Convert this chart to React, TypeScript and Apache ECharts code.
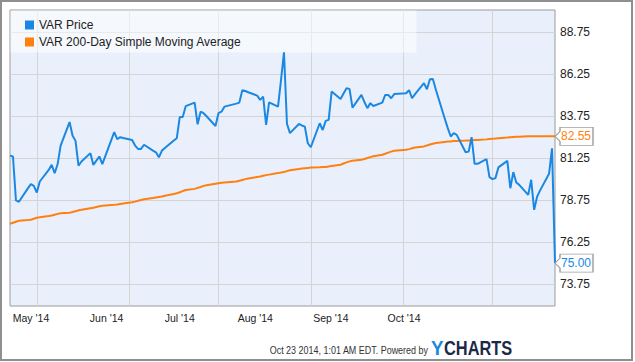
import React, { useEffect, useRef } from "react";
import * as echarts from "echarts";

// ---- data ----
const startDate = "2014-04-22";
const endDate = "2014-10-22";
const marketHolidays = ["2014-05-26", "2014-07-04", "2014-09-01"];

const seriesNames = ["VAR Price", "VAR 200-Day Simple Moving Average"];

// one value per trading day, Apr 22 .. Oct 22 2014
const priceValues = [
  81.4, 81.35, 78.73, 78.65, 79.45, 79.7, 79.6,
  79.2, 79.86, 80.55, 80.85, 80.35, 80.9, 82.0, 83.4, 82.6, 82.28, 80.8, 81.05, 81.55, 80.85, 81.1, 81.35, 80.9, 82.8, 82.38, 82.5, 82.45,
  82.33, 82.0, 81.8, 81.8, 82.05, 81.7, 81.6, 81.3, 81.7, 81.85, 82.3, 82.44, 83.7, 83.7, 84.35, 84.56, 83.27, 84.02, 83.93, 83.75, 83.17,
  83.93, 84.02, 84.32, 84.5, 84.56, 85.3, 85.25, 85.18, 84.98, 84.72, 84.92, 83.23, 84.58, 84.32, 85.9, 87.56, 83.3, 82.74, 83.29, 83.2, 83.13, 82.14,
  81.9, 83.33, 82.93, 83.47, 83.53, 85.22, 84.78, 85.1, 85.42, 85.38, 84.26, 85.02, 84.6, 84.23, 84.53, 84.36, 84.56, 85.02, 85.02, 84.82, 85.07,
  85.12, 85.3, 84.82, 85.07, 85.72, 85.36, 85.95, 85.97, 85.33, 83.6, 83.04, 82.54, 82.74, 82.64, 81.6, 81.64, 82.5, 80.91, 80.91, 81.19, 80.12,
  80.0, 80.06, 80.7, 81.09, 79.46, 80.42, 79.8, 79.66, 79.06, 79.96, 78.17, 78.96, 79.33, 80.32, 81.84, 75.0,
];

const smaValues = [
  77.34, 77.4, 77.46, 77.52, 77.56, 77.58, 77.64,
  77.7, 77.73, 77.8, 77.83, 77.88, 77.93, 77.97, 78.0, 78.04, 78.09, 78.14, 78.17, 78.27, 78.3, 78.34, 78.38, 78.41, 78.47, 78.49, 78.52, 78.55,
  78.62, 78.66, 78.71, 78.76, 78.8, 78.88, 78.91, 78.94, 78.97, 79.01, 79.11, 79.16, 79.22, 79.29, 79.35, 79.42, 79.48, 79.53, 79.6, 79.64, 79.73,
  79.76, 79.78, 79.8, 79.86, 79.9, 79.95, 80.0, 80.04, 80.13, 80.16, 80.2, 80.24, 80.27, 80.36, 80.4, 80.43, 80.48, 80.53, 80.6, 80.63, 80.65, 80.67,
  80.69, 80.71, 80.72, 80.73, 80.76, 80.79, 80.86, 80.93, 81.0, 81.06, 81.1, 81.15, 81.2, 81.26, 81.31, 81.36, 81.45, 81.51, 81.58, 81.64, 81.69,
  81.75, 81.79, 81.84, 81.88, 81.95, 82.01, 82.06, 82.11, 82.15, 82.22, 82.24, 82.25, 82.27, 82.28, 82.3, 82.31, 82.32, 82.33, 82.34, 82.37, 82.39,
  82.4, 82.42, 82.44, 82.48, 82.5, 82.51, 82.52, 82.53, 82.55, 82.55, 82.55, 82.55, 82.55, 82.55, 82.55, 82.55,
];

const yTickValues = [73.75, 76.25, 78.75, 81.25, 83.75, 86.25, 88.75];
const yMin = 72.44;
const yMax = 90.08;

const monthStarts = ["2014-05-01", "2014-06-01", "2014-07-01", "2014-08-01", "2014-09-01", "2014-10-01"];
const monthLabels = ["May '14", "Jun '14", "Jul '14", "Aug '14", "Sep '14", "Oct '14"];
// the month labels sit on their own calendar scale (as in the source image)
const labelAxisStart = "2014-04-22T09:15";
const labelAxisEnd = "2014-12-01T22:30";

const footerText = "Oct 23 2014, 1:01 AM EDT. Powered by";

// ---- helpers ----
function toTime(s: string): number {
  const [d, t] = s.split("T");
  const [y, m, dd] = d.split("-").map(Number);
  let hh = 0, mm = 0;
  if (t) [hh, mm] = t.split(":").map(Number);
  return Date.UTC(y, m - 1, dd, hh, mm);
}

function tradingDays(start: string, end: string, holidays: string[]): string[] {
  const out: string[] = [];
  const hol = new Set(holidays);
  let t = toTime(start);
  const e = toTime(end);
  while (t <= e) {
    const d = new Date(t);
    const wd = d.getUTCDay();
    const key = `${d.getUTCFullYear()}-${String(d.getUTCMonth() + 1).padStart(2, "0")}-${String(d.getUTCDate()).padStart(2, "0")}`;
    if (wd !== 0 && wd !== 6 && !hol.has(key)) out.push(key);
    t += 86400000;
  }
  return out;
}

const BLUE = "#1a88e3";
const ORANGE = "#ff7f0f";
const FONT = "'Liberation Sans', Arial, sans-serif";
const CALLOUT = "path://M0,9L5,4L5,0L38,0L38,18L5,18L5,14Z";

export default function App() {
  const ref = useRef<HTMLDivElement>(null);
  useEffect(() => {
    document.body.style.margin = "0";
    const chart = echarts.init(ref.current!, null, { renderer: "svg" });
    const dates = tradingDays(startDate, endDate, marketHolidays);
    const n = Math.min(dates.length, priceValues.length, smaValues.length);
    const priceData = dates.slice(0, n).map((d, i) => [toTime(d), priceValues[i]]);
    const smaData = dates.slice(0, n).map((d, i) => [toTime(d), smaValues[i]]);
    const lastT = toTime(dates[n - 1]);
    const monthTimes = monthStarts.map(toTime);

    const endMark = (color: string, value: number) => ({
      silent: true,
      symbol: CALLOUT,
      symbolSize: [38, 18],
      symbolOffset: [19, 0],
      itemStyle: { color: "#fff", borderColor: "#a0a0a0", borderWidth: 1 },
      label: {
        show: true,
        position: "inside",
        offset: [2, 0],
        color,
        fontSize: 12,
        fontFamily: FONT,
        formatter: (p: any) => Number(p.value).toFixed(2),
      },
      data: [{ coord: [lastT, value], value }],
    });

    chart.setOption({
      animation: false,
      backgroundColor: "#ffffff",
      grid: {
        left: 10,
        top: 10,
        right: 80,
        bottom: 56,
        show: true,
        backgroundColor: "#eaf0fb",
        borderColor: "#9a9a9a",
        borderWidth: 1,
      },
      legend: {
        orient: "vertical",
        left: 20,
        top: 14,
        itemWidth: 9,
        itemHeight: 9,
        itemGap: 5,
        icon: "rect",
        selectedMode: false,
        textStyle: { fontSize: 12, color: "#222", fontFamily: FONT },
        data: seriesNames,
      },
      xAxis: [
        {
          type: "value",
          position: "top",
          min: toTime(startDate),
          max: toTime(endDate),
          axisLine: { show: false },
          axisTick: { show: false, customValues: monthTimes },
          axisLabel: { show: false },
          splitLine: { show: true, lineStyle: { color: "#d4d4d4", width: 1 } },
        },
        {
          type: "value",
          position: "bottom",
          min: toTime(labelAxisStart),
          max: toTime(labelAxisEnd),
          axisLine: { show: false },
          axisTick: { show: false },
          splitLine: { show: false },
          axisLabel: {
            customValues: monthTimes,
            formatter: (v: number) => {
              const i = monthTimes.indexOf(v);
              return i >= 0 ? monthLabels[i] : "";
            },
            color: "#222",
            fontSize: 10.5,
            fontFamily: FONT,
            margin: 6,
            hideOverlap: false,
          },
        },
      ],
      yAxis: {
        type: "value",
        position: "right",
        min: yMin,
        max: yMax,
        axisLine: { show: false },
        axisTick: { show: false, customValues: yTickValues },
        axisLabel: {
          customValues: yTickValues,
          formatter: (v: number) => v.toFixed(2),
          color: "#222",
          fontSize: 12,
          fontFamily: FONT,
          margin: 5,
        },
        splitLine: { show: true, lineStyle: { color: "#d4d4d4", width: 1 } },
      },
      graphic: [
        {
          type: "rect",
          z: 1,
          silent: true,
          shape: { x: 10.5, y: 10.5, width: 406, height: 42 },
          style: { fill: "rgba(255,255,255,0.5)" },
        },
        {
          type: "rect",
          silent: true,
          shape: { x: 1, y: 1, width: 631, height: 359 },
          style: { fill: "none", stroke: "#8f8f8f", lineWidth: 2 },
        },
        {
          type: "text",
          silent: true,
          x: 428,
          y: 350,
          scaleX: 0.78,
          style: {
            text: footerText,
            align: "right",
            verticalAlign: "middle",
            fontSize: 11.5,
            fontFamily: FONT,
            fill: "#333",
          },
        },
        {
          type: "text",
          silent: true,
          x: 431,
          y: 348,
          scaleX: 0.9,
          style: {
            text: "Y",
            align: "left",
            verticalAlign: "middle",
            fontSize: 21,
            fontWeight: "bold",
            fontFamily: FONT,
            fill: BLUE,
          },
        },
        {
          type: "text",
          silent: true,
          x: 444,
          y: 348,
          scaleX: 0.78,
          style: {
            text: "CHARTS",
            align: "left",
            verticalAlign: "middle",
            fontSize: 21,
            fontWeight: "bold",
            fontFamily: FONT,
            fill: "#1c2a47",
          },
        },
      ],
      series: [
        {
          name: seriesNames[0],
          type: "line",
          xAxisIndex: 0,
          yAxisIndex: 0,
          data: priceData,
          color: BLUE,
          itemStyle: { color: BLUE },
          showSymbol: false,
          symbol: "none",
          lineStyle: { color: BLUE, width: 2 },
          z: 3,
          markPoint: endMark(BLUE, priceValues[n - 1]),
        },
        {
          name: seriesNames[1],
          type: "line",
          xAxisIndex: 0,
          yAxisIndex: 0,
          data: smaData,
          color: ORANGE,
          itemStyle: { color: ORANGE },
          showSymbol: false,
          symbol: "none",
          lineStyle: { color: ORANGE, width: 2 },
          z: 2,
          markPoint: endMark(ORANGE, smaValues[n - 1]),
        },
      ],
    });
    return () => chart.dispose();
  }, []);
  return <div ref={ref} style={{ width: 635, height: 362 }} />;
}
